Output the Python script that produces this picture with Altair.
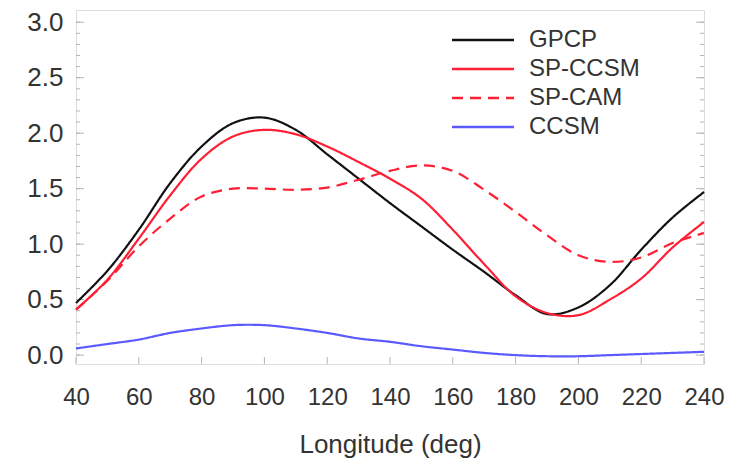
import altair as alt
import pandas as pd

# ---- data ----
lon = [40, 50, 60, 70, 80, 90, 100, 110, 120, 130, 140, 150, 160, 170, 180, 190, 200, 210, 220, 230, 240]
gpcp = [0.47, 0.76, 1.13, 1.55, 1.88, 2.09, 2.14, 2.03, 1.81, 1.59, 1.37, 1.16, 0.95, 0.75, 0.54, 0.37, 0.43, 0.63, 0.95, 1.24, 1.47]
sp_ccsm = [0.41, 0.68, 1.05, 1.44, 1.77, 1.97, 2.03, 1.99, 1.88, 1.74, 1.59, 1.41, 1.13, 0.82, 0.53, 0.38, 0.36, 0.50, 0.69, 0.97, 1.20]
sp_cam = [0.41, 0.67, 0.98, 1.23, 1.43, 1.50, 1.50, 1.49, 1.51, 1.58, 1.66, 1.71, 1.66, 1.49, 1.29, 1.08, 0.90, 0.84, 0.88, 1.01, 1.10]
ccsm = [0.06, 0.10, 0.14, 0.20, 0.24, 0.27, 0.27, 0.24, 0.20, 0.15, 0.12, 0.08, 0.05, 0.02, 0.00, -0.01, -0.01, 0.00, 0.01, 0.02, 0.03]

series_names = ["GPCP", "SP-CCSM", "SP-CAM", "CCSM"]
series_colors = ["#111111", "#ff1f35", "#ff1f35", "#5a5aff"]
series_dash = [[1, 0], [1, 0], [11, 7], [1, 0]]

x_ticks = [40, 60, 80, 100, 120, 140, 160, 180, 200, 220, 240]
y_ticks = [0.0, 0.5, 1.0, 1.5, 2.0, 2.5, 3.0]
y_minor = [0.0, 0.1, 0.2, 0.3, 0.4, 0.5, 0.6, 0.7, 0.8, 0.9, 1.0, 1.1, 1.2, 1.3, 1.4, 1.5,
           1.6, 1.7, 1.8, 1.9, 2.0, 2.1, 2.2, 2.3, 2.4, 2.5, 2.6, 2.7, 2.8, 2.9, 3.0]

rows = []
for name, vals in zip(series_names, [gpcp, sp_ccsm, sp_cam, ccsm]):
    for lo, v in zip(lon, vals):
        rows.append({"lon": lo, "value": v, "series": name})
df = pd.DataFrame(rows)

W, H = 628, 354
FONT = "Liberation Sans"
TXT = "#333333"

xscale = alt.Scale(domain=[40, 240], nice=False, zero=False)
yscale = alt.Scale(domain=[-0.08, 3.11], nice=False, zero=False)

legend = alt.Legend(title=None, orient="none", legendX=395, legendY=18,
                    symbolType="M-3,0H3", symbolSize=427, symbolStrokeWidth=2.5,
                    labelFontSize=24, labelFont=FONT, labelColor=TXT,
                    labelOffset=34, rowPadding=5, padding=0, labelLimit=300)

lines = alt.Chart(df).mark_line(strokeWidth=2.2, interpolate="catmull-rom").encode(
    x=alt.X("lon:Q", scale=xscale,
            axis=alt.Axis(values=x_ticks, title="Longitude (deg)", ticks=False, grid=False,
                          domain=False, labelPadding=21, labelFontSize=24, labelFont=FONT,
                          labelFlush=False, labelOverlap=False,
                          labelColor=TXT, titleFont=FONT, titleFontSize=26,
                          titleFontWeight="normal", titleColor=TXT, titlePadding=22)),
    y=alt.Y("value:Q", scale=yscale,
            axis=alt.Axis(values=y_ticks, format=".1f", title=None, ticks=False, grid=False,
                          domain=False, labelPadding=13, labelFontSize=26, labelFont=FONT,
                          labelFlush=False, labelOverlap=False, labelColor=TXT)),
    color=alt.Color("series:N", scale=alt.Scale(domain=series_names, range=series_colors),
                    sort=series_names, legend=legend),
    strokeDash=alt.StrokeDash("series:N", scale=alt.Scale(domain=series_names, range=series_dash),
                              sort=series_names, legend=legend),
    order=alt.Order("series:N"),
)

tick_color = "#b5b5b5"
ydf = pd.DataFrame({"v": y_minor})
ymaj = pd.DataFrame({"v": y_ticks})
xdf = pd.DataFrame({"v": x_ticks})

left_minor = alt.Chart(ydf).mark_rule(color=tick_color, strokeWidth=1).encode(
    y=alt.Y("v:Q", scale=yscale), x=alt.value(0), x2=alt.value(4))
left_major = alt.Chart(ymaj).mark_rule(color=tick_color, strokeWidth=1).encode(
    y=alt.Y("v:Q", scale=yscale), x=alt.value(0), x2=alt.value(8))
right_minor = alt.Chart(ydf).mark_rule(color=tick_color, strokeWidth=1).encode(
    y=alt.Y("v:Q", scale=yscale), x=alt.value(W - 4), x2=alt.value(W))
right_major = alt.Chart(ymaj).mark_rule(color=tick_color, strokeWidth=1).encode(
    y=alt.Y("v:Q", scale=yscale), x=alt.value(W - 8), x2=alt.value(W))
bottom_ticks = alt.Chart(xdf).mark_rule(color=tick_color, strokeWidth=1).encode(
    x=alt.X("v:Q", scale=xscale), y=alt.value(H), y2=alt.value(H - 7))

chart = alt.layer(left_minor, left_major, right_minor, right_major, bottom_ticks, lines).properties(
    width=W, height=H,
    autosize=alt.AutoSizeParams(type="none"),
    padding={"left": 68, "top": 2, "right": 36, "bottom": 100},
).configure_view(stroke="#aaaaaa", strokeWidth=1.2).configure(background="white")

chart.save("out.html", embed_options={"renderer": "svg", "actions": False})
